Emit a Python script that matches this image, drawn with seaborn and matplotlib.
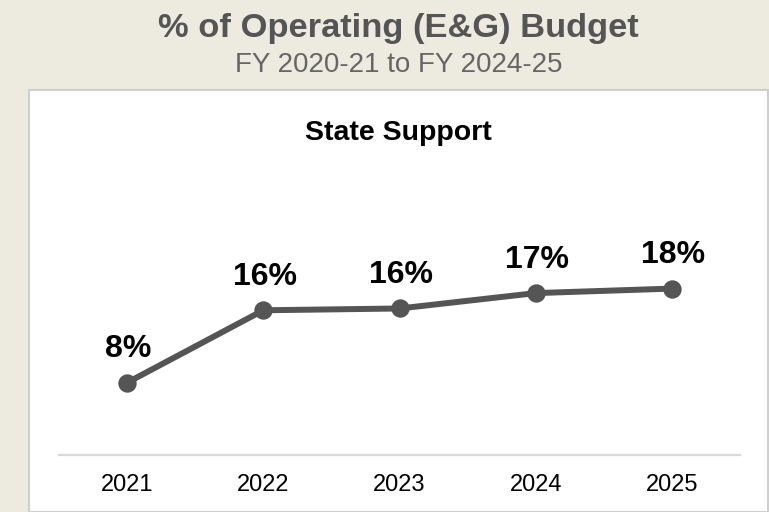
import matplotlib
matplotlib.use("Agg")
import matplotlib.pyplot as plt
from matplotlib.patches import Rectangle
import seaborn as sns
import pandas as pd

years = ["2021", "2022", "2023", "2024", "2025"]
state_support = [8.0, 16.0, 16.2, 17.9, 18.4]

title = "% of Operating (E&G) Budget"
subtitle = "FY 2020-21 to FY 2024-25"
panel_title = "State Support"

sns.set_theme(style="white")
plt.rcParams["font.family"] = ["Liberation Sans", "DejaVu Sans"]

W, H = 769, 512
fig = plt.figure(figsize=(W / 100, H / 100), dpi=100)
fig.patch.set_facecolor("#EDEAE0")

# white panel
panel = Rectangle((29 / W, 0), (768 - 29) / W, 1 - 90 / H, transform=fig.transFigure,
                  facecolor="white", edgecolor="#CFCFCF", linewidth=1.5, zorder=-10)
fig.patches.append(panel)

ax = fig.add_axes([59 / W, 1 - 455 / H, (740 - 59) / W, (455 - 190) / H])
ax.set_zorder(5)
ax.set_facecolor("none")

df = pd.DataFrame({"Year": years, "Value": state_support})
sns.pointplot(data=df, x="Year", y="Value", order=years, color="#555555",
              markers="o", linestyles="-", linewidth=4.3, markersize=10, ax=ax)

ax.set_xlim(-0.5, len(years) - 0.5)
ax.set_ylim(0, 29.3)
ax.set_xlabel("")
ax.set_ylabel("")
ax.set_yticks([])
for s in ["top", "right", "left"]:
    ax.spines[s].set_visible(False)
ax.spines["bottom"].set_color("#D9D9D9")
ax.spines["bottom"].set_linewidth(1.6)
ax.tick_params(axis="x", length=0, pad=14, labelsize=17, labelcolor="black")

for i, v in enumerate(state_support):
    ax.annotate(f"{int(v)}%", (i, v), xytext=(1, 24), textcoords="offset points",
                ha="center", va="center", fontsize=23, fontweight="bold", color="black")

cx = (29 + 768) / 2 / W
fig.text(cx, 1 - 28 / H, title, ha="center", va="center", fontsize=24.8,
         fontweight="bold", color="#555555")
fig.text(cx, 1 - 65 / H, subtitle, ha="center", va="center", fontsize=20,
         color="#666666")
fig.text(cx, 1 - 133 / H, panel_title, ha="center", va="center", fontsize=20.5,
         fontweight="bold", color="black")

fig.savefig("out.png", dpi=100, facecolor=fig.get_facecolor())
